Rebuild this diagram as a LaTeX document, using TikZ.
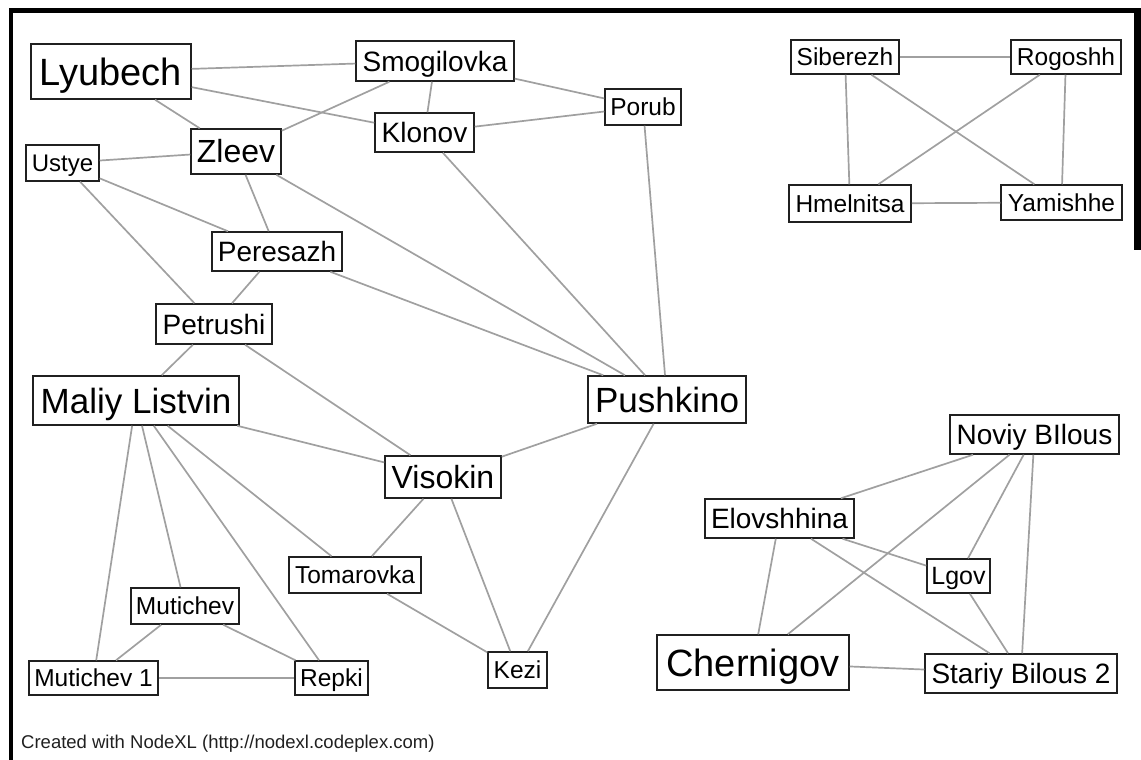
\documentclass[tikz,border=0pt]{standalone}
\usepackage{fontspec}
\setmainfont{Liberation Sans}
\definecolor{edgegray}{HTML}{A0A0A0}
\definecolor{boxline}{HTML}{202020}
\tikzset{
  town/.style={draw=boxline, fill=white, line width=1.5pt, inner sep=0pt, align=center},
  txt/.style={font=\fontsize{#1pt}{#1pt}\selectfont, text height=0.716*#1pt, text depth=0pt},
  link/.style={draw=edgegray, line width=1.7pt}
}

\begin{document}
\begin{tikzpicture}[x=1pt, y=-1pt]
  \useasboundingbox (0,0) rectangle (1141,760);
  % frame of the screenshot
  \fill[black] (8.5,8.5) rectangle (13,760);
  \fill[black] (8.5,8.5) rectangle (1141,13);
  \fill[black] (1134,8.5) rectangle (1141,250);

  % main component
  \node[town, txt=38, minimum width=160pt, minimum height=55pt] (lyubech) at (111,71.5) {Lyubech};
  \node[town, txt=28, minimum width=158pt, minimum height=40pt] (smogil) at (435,61) {Smogilovka};
  \node[town, txt=28, minimum width=99pt, minimum height=39pt] (klonov) at (424.5,132.5) {Klonov};
  \node[town, txt=24.5, minimum width=76pt, minimum height=36pt] (porub) at (643,107) {Porub};
  \node[town, txt=32, minimum width=90pt, minimum height=45pt] (zleev) at (236,151.5) {Zleev};
  \node[town, txt=24, minimum width=73pt, minimum height=36pt] (ustye) at (62.5,163) {Ustye};
  \node[town, txt=28, minimum width=130pt, minimum height=39pt] (peres) at (277,251.5) {Peresazh};
  \node[town, txt=28, minimum width=116pt, minimum height=40pt] (petrus) at (214,324) {Petrushi};
  \node[town, txt=35, minimum width=206pt, minimum height=49pt] (maliy) at (136,400.5) {Maliy Listvin};
  \node[town, txt=35, minimum width=158pt, minimum height=47pt] (pushk) at (667,399.5) {Pushkino};
  \node[town, txt=32, minimum width=116pt, minimum height=42pt] (visok) at (443,477) {Visokin};
  \node[town, txt=24.5, minimum width=132pt, minimum height=36pt] (tomar) at (355,575) {Tomarovka};
  \node[town, txt=24.5, minimum width=108pt, minimum height=36pt] (mutich) at (185,606) {Mutichev};
  \node[town, txt=24.5, minimum width=129pt, minimum height=34pt] (mutone) at (93.5,678) {Mutichev 1};
  \node[town, txt=24.5, minimum width=73pt, minimum height=34pt] (repki) at (331.5,678) {Repki};
  \node[town, txt=24.5, minimum width=59pt, minimum height=36pt] (kezi) at (517.5,670) {Kezi};

  % top right group
  \node[town, txt=24.5, minimum width=108pt, minimum height=34pt] (siber) at (845,57) {Siberezh};
  \node[town, txt=24.5, minimum width=110pt, minimum height=34pt] (rogos) at (1066,57) {Rogoshh};
  \node[town, txt=24.5, minimum width=122pt, minimum height=37pt] (hmeln) at (850,203.5) {Hmelnitsa};
  \node[town, txt=24.5, minimum width=121pt, minimum height=35pt] (yamis) at (1061.5,202.5) {Yamishhe};

  % bottom right group
  \node[town, txt=28, minimum width=169pt, minimum height=39pt] (noviy) at (1034.5,434.5) {Noviy BIlous};
  \node[town, txt=28, minimum width=149pt, minimum height=39pt] (elovs) at (779.5,518.5) {Elovshhina};
  \node[town, txt=25, minimum width=63pt, minimum height=34pt] (lgov) at (958.5,576) {Lgov};
  \node[town, txt=38, minimum width=192pt, minimum height=55pt] (chern) at (753,662.5) {Chernigov};
  \node[town, txt=28, minimum width=192pt, minimum height=39pt] (stariy) at (1021,673.5) {Stariy Bilous 2};

  \node[anchor=base west, inner sep=0pt, text=boxline, font=\fontsize{18.5pt}{18.5pt}\selectfont] (credit) at (21,748) {Created with NodeXL (http://nodexl.codeplex.com)};

  % edges
  \draw[link] (lyubech) -- (smogil);
  \draw[link] (lyubech) -- (klonov);
  \draw[link] (lyubech) -- (zleev);
  \draw[link] (smogil) -- (zleev);
  \draw[link] (smogil) -- (klonov);
  \draw[link] (smogil) -- (porub);
  \draw[link] (klonov) -- (porub);
  \draw[link] (klonov) -- (pushk);
  \draw[link] (porub) -- (pushk);
  \draw[link] (ustye) -- (zleev);
  \draw[link] (ustye) -- (peres);
  \draw[link] (ustye) -- (petrus);
  \draw[link] (zleev) -- (peres);
  \draw[link] (zleev) -- (pushk);
  \draw[link] (peres) -- (pushk);
  \draw[link] (peres) -- (petrus);
  \draw[link] (petrus) -- (maliy);
  \draw[link] (petrus) -- (visok);
  \draw[link] (maliy) -- (visok);
  \draw[link] (maliy) -- (mutone);
  \draw[link] (maliy) -- (mutich);
  \draw[link] (maliy) -- (repki);
  \draw[link] (maliy) -- (tomar);
  \draw[link] (pushk) -- (visok);
  \draw[link] (pushk) -- (kezi);
  \draw[link] (visok) -- (tomar);
  \draw[link] (visok) -- (kezi);
  \draw[link] (tomar) -- (kezi);
  \draw[link] (mutich) -- (mutone);
  \draw[link] (mutich) -- (repki);
  \draw[link] (mutone) -- (repki);

  \draw[link] (siber) -- (rogos);
  \draw[link] (siber) -- (hmeln);
  \draw[link] (siber) -- (yamis);
  \draw[link] (rogos) -- (hmeln);
  \draw[link] (rogos) -- (yamis);
  \draw[link] (hmeln) -- (yamis);

  \draw[link] (noviy) -- (elovs);
  \draw[link] (noviy) -- (chern);
  \draw[link] (noviy) -- (lgov);
  \draw[link] (noviy) -- (stariy);
  \draw[link] (elovs) -- (chern);
  \draw[link] (elovs) -- (lgov);
  \draw[link] (elovs) -- (stariy);
  \draw[link] (lgov) -- (stariy);
  \draw[link] (chern) -- (stariy);
\end{tikzpicture}
\end{document}
